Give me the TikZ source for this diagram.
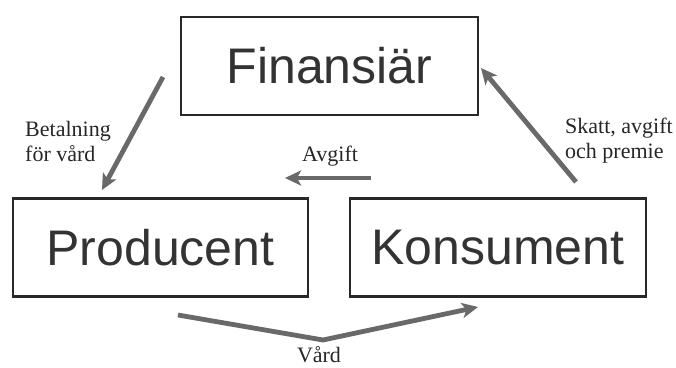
\documentclass[tikz,border=0pt]{standalone}
\usepackage{fontspec}
\setmainfont{Liberation Serif}
\newfontfamily\boxfont{Liberation Sans}
\usetikzlibrary{arrows.meta,positioning,calc}
\definecolor{flowgray}{RGB}{105,105,105}
\definecolor{edgegray}{RGB}{40,40,40}

\begin{document}
\begin{tikzpicture}[x=1pt, y=-1pt,
        actor/.style={rectangle, draw=edgegray, line width=2.2pt,
                      minimum height=98pt, align=center,
                      font=\boxfont\fontsize{50}{56}\selectfont, text=black!80},
        flow/.style={-{Stealth[length=16pt,width=15pt,inset=4pt]},
                     line width=4.8pt, flowgray},
        lbl/.style={font=\fontsize{22}{25}\selectfont, align=left,
                    inner sep=0pt, text=black!85}
    ]
    \useasboundingbox (0,0) rectangle (676,367);

    %% ── the three parties ───────────────────────────────────────────────
    \node[actor, minimum width=297pt] (fin)  at (329.5, 66)   {Finansiär};
    \node[actor, minimum width=295pt] (prod) at (160.5, 247.5) {Producent};
    \node[actor, minimum width=296pt] (kons) at (498,   247.5) {Konsument};

    %% ── free ends of the flows ──────────────────────────────────────────
    \coordinate (betS) at (163, 77);
    \coordinate (betE) at (102, 190);
    \coordinate (avgS) at (371, 178);
    \coordinate (avgE) at (285, 178);
    \coordinate (skaS) at (576, 182);
    \coordinate (skaE) at (481, 68);
    \coordinate (vrdS) at (178, 315);
    \coordinate (vrdM) at (323, 340);
    \coordinate (vrdE) at (478, 307);

    %% ── money and care flows ────────────────────────────────────────────
    \draw[flow] (betS) -- (betE);
    \draw[flow] (avgS) -- (avgE);
    \draw[flow] (skaS) -- (skaE);
    \draw[flow, line join=miter] (vrdS) -- (vrdM) -- (vrdE);

    %% labels
    \node[lbl, anchor=west] (betL) at (25, 141) {Betalning\\för vård};
    \node[lbl, anchor=base west] (avgL) at (302, 161) {Avgift};
    \node[lbl, anchor=west] (skaL) at (565, 141) {Skatt, avgift\\och premie};
    \node[lbl, anchor=base] (vrdL) at (319, 362) {Vård};

\end{tikzpicture}
\end{document}
